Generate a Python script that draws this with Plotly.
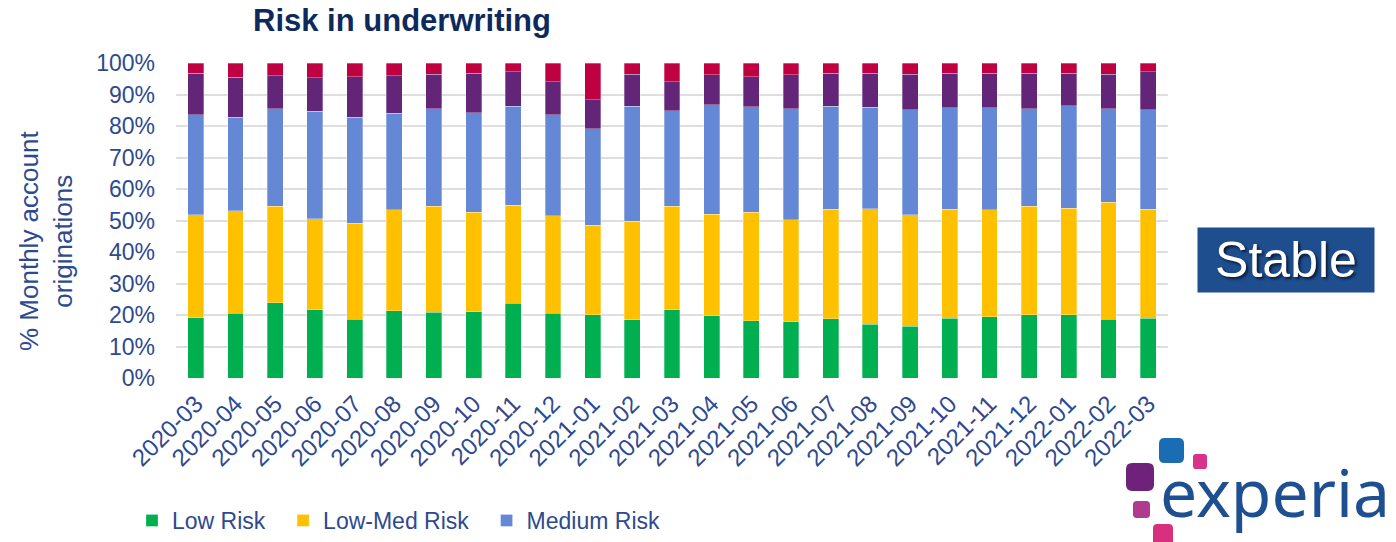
import plotly.graph_objects as go

# Monthly account originations by risk band (% of month)
months = ["2020-03", "2020-04", "2020-05", "2020-06", "2020-07", "2020-08", "2020-09",
          "2020-10", "2020-11", "2020-12", "2021-01", "2021-02", "2021-03", "2021-04",
          "2021-05", "2021-06", "2021-07", "2021-08", "2021-09", "2021-10", "2021-11",
          "2021-12", "2022-01", "2022-02", "2022-03"]

low_risk = [19.2, 20.5, 23.9, 21.7, 18.6, 21.4, 20.8, 21.0, 23.7, 20.5, 20.1, 18.5, 21.7,
            19.7, 18.1, 17.9, 18.8, 17.0, 16.5, 19.0, 19.4, 20.1, 20.1, 18.7, 18.9]
low_med_risk = [32.7, 32.6, 30.7, 28.8, 30.5, 32.0, 33.7, 31.6, 31.2, 31.0, 28.4, 31.2, 32.9,
                32.3, 34.5, 32.3, 34.7, 36.8, 35.3, 34.5, 34.0, 34.4, 33.8, 37.1, 34.7]
medium_risk = [31.7, 29.7, 30.9, 34.2, 33.7, 30.6, 30.9, 31.6, 31.3, 32.1, 30.7, 36.5, 30.2,
               34.8, 33.5, 35.3, 32.7, 32.2, 33.4, 32.3, 32.4, 31.0, 32.6, 29.7, 31.6]
med_high_risk = [13.2, 12.7, 10.4, 10.6, 12.8, 12.0, 11.1, 12.6, 11.0, 10.4, 9.1, 10.3, 9.3,
                 9.4, 9.5, 10.7, 10.6, 10.8, 11.3, 11.0, 11.0, 11.3, 10.3, 11.0, 12.0]
high_risk = [3.2, 4.5, 4.1, 4.7, 4.4, 4.0, 3.5, 3.2, 2.8, 6.0, 11.7, 3.5, 5.9,
             3.8, 4.4, 3.8, 3.2, 3.2, 3.5, 3.2, 3.2, 3.2, 3.2, 3.5, 2.8]

series = [
    ("Low Risk", low_risk, "#00AF50", True),
    ("Low-Med Risk", low_med_risk, "#FFC000", True),
    ("Medium Risk", medium_risk, "#6488D6", True),
    ("Medium-High Risk", med_high_risk, "#632578", False),
    ("High Risk", high_risk, "#BF0041", False),
]

W, H = 1396, 542
ML, MR, MT, MB = 176, 228, 63, 164
PW, PH = W - ML - MR, H - MT - MB
NAVY = "#2E4A8F"
FONT = "Liberation Sans, Arial, sans-serif"
PAD = "\u00a0\u00a0"  # extra room after each legend entry


def px_x(x):
    return (x - ML) / PW


def px_y(y):
    return (H - MB - y) / PH


fig = go.Figure()
for name, vals, color, show in series:
    fig.add_trace(go.Bar(
        x=months, y=vals, name=name + PAD if show else name, showlegend=show,
        marker=dict(color=color, line=dict(color="rgba(255,255,255,0.5)", width=0.6)),
    ))


def rounded_rect(x0, y0, x1, y1, r):
    # rounded square in paper coordinates from pixel corners
    X = lambda v: px_x(v)
    Y = lambda v: px_y(v)
    return (f"M {X(x0 + r)},{Y(y0)} L {X(x1 - r)},{Y(y0)} Q {X(x1)},{Y(y0)} {X(x1)},{Y(y0 + r)} "
            f"L {X(x1)},{Y(y1 - r)} Q {X(x1)},{Y(y1)} {X(x1 - r)},{Y(y1)} "
            f"L {X(x0 + r)},{Y(y1)} Q {X(x0)},{Y(y1)} {X(x0)},{Y(y1 - r)} "
            f"L {X(x0)},{Y(y0 + r)} Q {X(x0)},{Y(y0)} {X(x0 + r)},{Y(y0)} Z")


logo_blocks = [
    (1159, 438, 1184, 463, "#1A6DB3"),
    (1193, 454, 1207, 469, "#D8338A"),
    (1126, 463, 1154, 491, "#6E2279"),
    (1133, 501, 1150, 518, "#B03A8F"),
    (1153, 524, 1173, 546, "#D7307E"),
]
shapes = []
for x0, y0, x1, y1, c in logo_blocks:
    shapes.append(dict(type="path", xref="paper", yref="paper",
                       path=rounded_rect(x0, y0, x1, y1, (x1 - x0) * 0.22),
                       fillcolor=c, line=dict(width=0), layer="above"))

annotations = [
    dict(text="% Monthly account<br>originations", textangle=-90,
         x=px_x(46), y=px_y(241), xref="paper", yref="paper",
         xanchor="center", yanchor="middle", showarrow=False,
         font=dict(family=FONT, size=26, color=NAVY)),
    dict(text="Stable", x=px_x(1286), y=px_y(260), xref="paper", yref="paper",
         xanchor="center", yanchor="middle", showarrow=False,
         width=176, height=64, borderpad=0, bgcolor="#1F4E8E",
         font=dict(family=FONT, size=50, color="white", shadow="2px 2px 3px #0a1a35")),
    dict(text="experia", x=px_x(1158), y=px_y(491), xref="paper", yref="paper",
         xanchor="left", yanchor="middle", showarrow=False,
         font=dict(family="Noto Sans, sans-serif", size=66, color="#1D4F91")),
]

fig.update_layout(
    width=W, height=H,
    margin=dict(l=ML, r=MR, t=MT, b=MB, autoexpand=False),
    paper_bgcolor="white", plot_bgcolor="white",
    barmode="stack", bargap=0.6,
    font=dict(family=FONT, color=NAVY),
    title=dict(text="<b>Risk in underwriting</b>", x=402 / W, xanchor="center",
               y=1 - 20 / H, yanchor="middle", xref="container", yref="container",
               font=dict(family=FONT, size=31, color="#0E2A5C")),
    legend=dict(orientation="h", x=px_x(132), xanchor="left", y=px_y(542), yanchor="bottom",
                font=dict(family=FONT, size=23, color=NAVY), traceorder="normal"),
    shapes=shapes,
    annotations=annotations,
)
fig.update_yaxes(range=[0, 100], dtick=10, ticksuffix="%", showgrid=True,
                 gridcolor="#DEDEDE", gridwidth=1.5, zeroline=False, showline=False,
                 ticklabelstandoff=20, tickfont=dict(family=FONT, size=23, color=NAVY))
fig.update_xaxes(type="category", tickangle=-45, showgrid=False, showline=False,
                 ticklabelstandoff=6, tickfont=dict(family=FONT, size=24, color=NAVY))

fig.write_html("out.html")
